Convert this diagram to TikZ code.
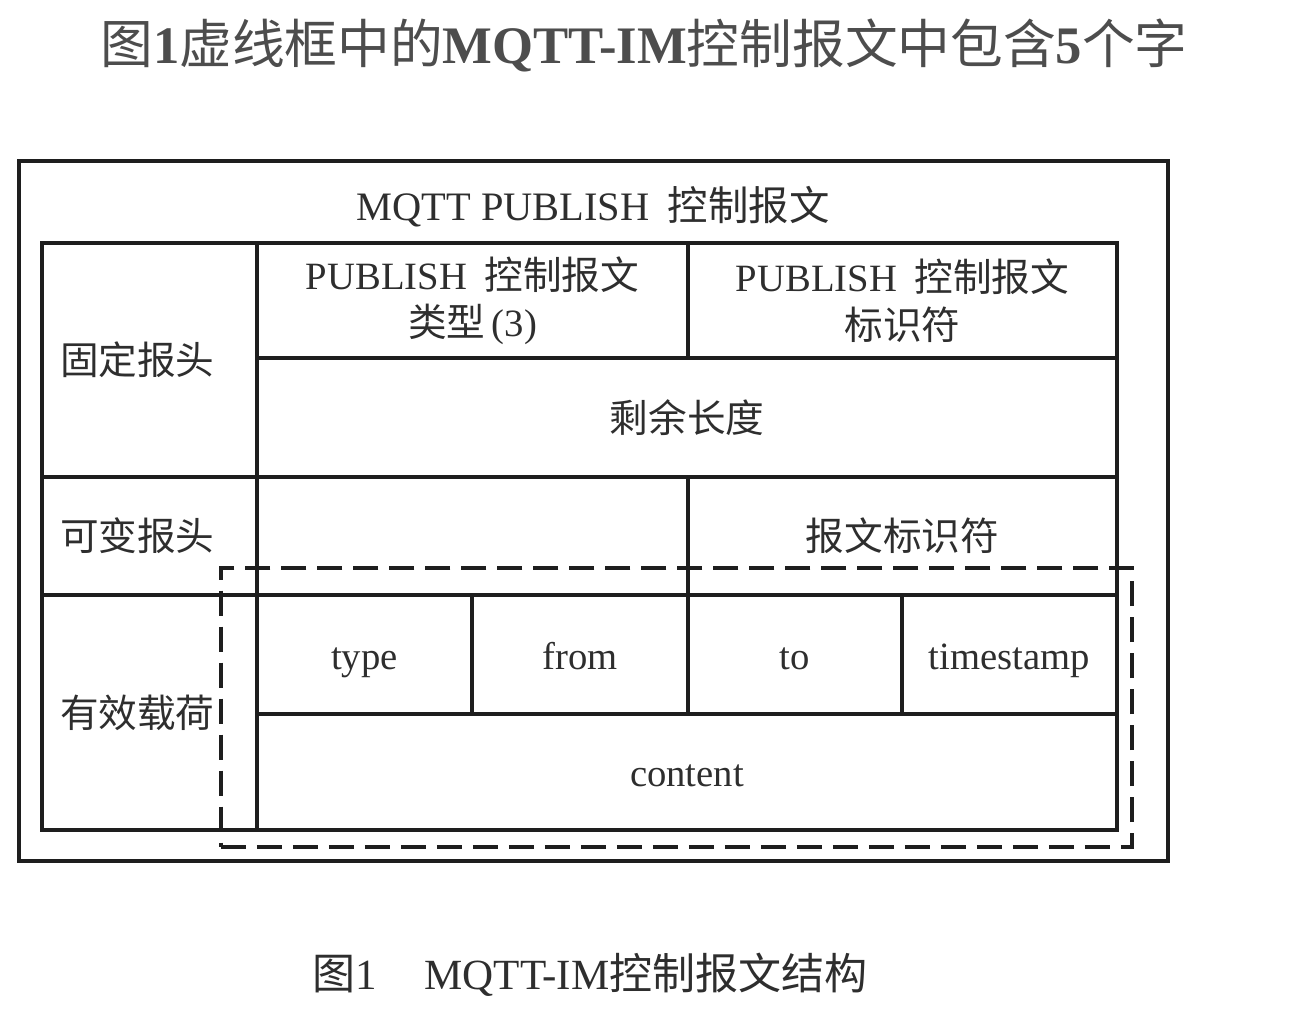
\documentclass[tikz,border=0pt]{standalone}
\usepackage{fontspec}
\setmainfont{Liberation Serif}
\newfontfamily\cjk{Noto Sans CJK SC}
\usetikzlibrary{positioning}
\definecolor{inkline}{HTML}{1e1e1e}
\definecolor{inktext}{HTML}{2e2e2e}
\tikzset{
  cell/.style={
    % The shape:
    rectangle,
    outer sep=0pt,inner sep=0pt,
    % The border:
    draw=inkline,line width=1.9pt,
    % The text:
    text=inktext,align=center,
    font=\fontsize{22}{27}\selectfont},
  oneline/.style={text height=21pt,text depth=4pt},
  headcell/.style={
    cell,oneline,
    % The text starts near the left edge
    align=left,text width=3.58cm},
  frame/.style={
    rectangle,
    outer sep=0pt,
    draw=inkline,line width=1.9pt},
  im frame/.style={
    frame,
    dash pattern=on 0.5cm off 0.22cm},
  cellsize/.style 2 args={minimum width=#1*0.02cm,minimum height=#2*0.02cm},
  heading/.style={text=inktext!85,font=\fontsize{30}{36}\selectfont},
  caption/.style={text=inktext,font=\fontsize{24.5}{29}\selectfont}
}

\begin{document}
\begin{tikzpicture}[x=0.02cm,y=-0.02cm]
  \useasboundingbox (0,0) rectangle (1291,1017);

  \node (title) [heading] at (644,45)
    {{\cjk 图}\textbf{1}{\cjk 虚线框中的}\textbf{MQTT-IM}{\cjk 控制报文中包含}\textbf{5}{\cjk 个字}};

  % outer packet
  \node (packet) [frame,cellsize={1149}{700}] at (593.5,511) {};
  \node (packetname) [cell,oneline,draw=none,font=\fontsize{23}{28}\selectfont] at (593,206)
    {MQTT PUBLISH\hspace{0.45em}{\cjk 控制报文}};

  % left column
  \node (fixed)    [headcell,cellsize={215}{234}] at (149.5,360) {\cjk 固定报头};
  \node (variable) [headcell,cellsize={215}{118},below=0pt of fixed] {\cjk 可变报头};
  \node (payload)  [headcell,cellsize={215}{235},below=0pt of variable] {\cjk 有效载荷};

  % fixed header
  \node (typecode) [cell,cellsize={431}{115}] at (472.5,300.5)
    {PUBLISH\hspace{0.45em}{\cjk 控制报文}\\{\cjk 类型}\,(3)};
  \node (pubid)    [cell,cellsize={429}{115},right=0pt of typecode]
    {PUBLISH\hspace{0.45em}{\cjk 控制报文}\\{\cjk 标识符}};
  \node (remain)   [cell,oneline,cellsize={860}{119}] at (687,417.5) {\cjk 剩余长度};

  % variable header
  \node (varempty) [cell,cellsize={431}{118}] at (472.5,536) {};
  \node (msgid)    [cell,oneline,cellsize={429}{118},right=0pt of varempty] {\cjk 报文标识符};

  % payload
  \node (type)  [cell,oneline,cellsize={215}{119}] at (364.5,654.5) {type};
  \node (from)  [cell,oneline,cellsize={216}{119},right=0pt of type] {from};
  \node (to)    [cell,oneline,cellsize={214}{119},right=0pt of from] {to};
  \node (stamp) [cell,oneline,cellsize={215}{119},right=0pt of to] {timestamp};
  \node (content) [cell,oneline,cellsize={860}{116}] at (687,772) {content};

  % MQTT-IM fields
  \node (imbox) [im frame,cellsize={911}{279}] at (676.5,707.5) {};

  \node (caption) [caption] at (590,975)
    {{\cjk 图}1\hspace{1.1em}MQTT-IM{\cjk 控制报文结构}};
\end{tikzpicture}
\end{document}
